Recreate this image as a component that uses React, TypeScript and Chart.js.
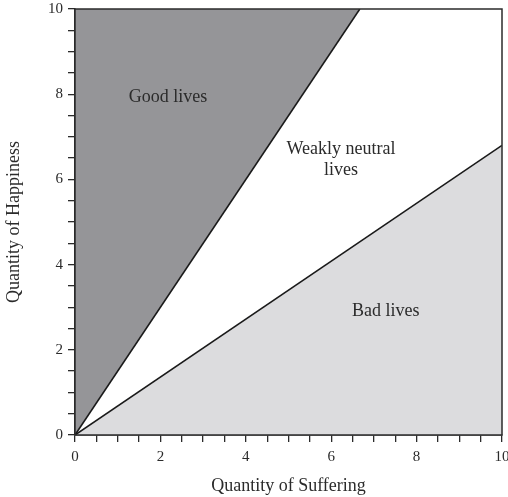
import React, { useEffect, useRef } from "react";
import { Chart, registerables } from "chart.js";

Chart.register(...registerables);

// Axis ranges and tick labels
const axisMin = 0;
const axisMax = 10;
const tickStep = 0.5;
const labelStep = 2;

// Boundary lines (from origin)
const steepX = [0, 6.67];
const steepY = [0, 10];
const shallowX = [0, 10];
const shallowY = [0, 6.8];

// Region labels
const regionText = [["Good lives"], ["Weakly neutral", "lives"], ["Bad lives"]];
const regionX = [2.18, 6.23, 7.28];
const regionY = [7.93, 6.45, 2.91];

const xTitle = "Quantity of Suffering";
const yTitle = "Quantity of Happiness";

const FONT = "'Liberation Serif', 'DejaVu Serif', serif";
const INK = "#2b2b2b";

const toPoints = (xs: number[], ys: number[]) => xs.map((x, i) => ({ x, y: ys[i] }));

const framePlugin = {
  id: "frameAndLabels",
  afterDatasetsDraw(chart: any) {
    const { ctx, chartArea, scales } = chart;
    ctx.save();
    ctx.strokeStyle = INK;
    ctx.lineWidth = 1.5;
    ctx.strokeRect(chartArea.left, chartArea.top, chartArea.right - chartArea.left, chartArea.bottom - chartArea.top);
    ctx.fillStyle = INK;
    ctx.font = `18px ${FONT}`;
    ctx.textAlign = "center";
    ctx.textBaseline = "middle";
    regionText.forEach((lines, i) => {
      const px = scales.x.getPixelForValue(regionX[i]);
      const py = scales.y.getPixelForValue(regionY[i]);
      const lh = 21;
      lines.forEach((t, j) => {
        ctx.fillText(t, px, py + (j - (lines.length - 1) / 2) * lh);
      });
    });
    ctx.restore();
  },
};

export default function App() {
  const ref = useRef<HTMLCanvasElement | null>(null);
  useEffect(() => {
    if (!ref.current) return;
    const tickCb = (v: any) => {
      const n = Number(v);
      return Math.abs(n / labelStep - Math.round(n / labelStep)) < 1e-6 ? String(Math.round(n)) : "";
    };
    const chart = new Chart(ref.current, {
      type: "scatter",
      data: {
        datasets: [
          {
            data: toPoints(steepX, steepY),
            showLine: true,
            fill: "end",
            backgroundColor: "#959598",
            borderColor: "#1a1a1a",
            borderWidth: 1.6,
            pointRadius: 0,
          },
          {
            data: toPoints(shallowX, shallowY),
            showLine: true,
            fill: "start",
            backgroundColor: "#dcdcde",
            borderColor: "#1a1a1a",
            borderWidth: 1.6,
            pointRadius: 0,
          },
        ],
      },
      options: {
        animation: false,
        responsive: true,
        maintainAspectRatio: false,
        layout: { padding: { top: 9, right: 6, left: 0, bottom: 0 } },
        plugins: { legend: { display: false }, tooltip: { enabled: false } },
        scales: {
          x: {
            type: "linear",
            min: axisMin,
            max: axisMax,
            ticks: { stepSize: tickStep, autoSkip: false, maxRotation: 0, callback: tickCb, color: INK, font: { family: FONT, size: 15 }, padding: 6 },
            grid: { display: true, drawOnChartArea: false, tickLength: 7, color: INK, lineWidth: 1.3 },
            border: { display: true, color: INK, width: 1.5 },
            title: { display: true, text: xTitle, color: INK, font: { family: FONT, size: 18 }, padding: { top: 4, bottom: 0 } },
            afterFit: (s: any) => {
              s.height = 62;
              s.paddingLeft = 0;
              s.paddingRight = 0;
            },
          },
          y: {
            type: "linear",
            min: axisMin,
            max: axisMax,
            ticks: { stepSize: tickStep, autoSkip: false, callback: tickCb, color: INK, font: { family: FONT, size: 15 }, padding: 5 },
            grid: { display: true, drawOnChartArea: false, tickLength: 7, color: INK, lineWidth: 1.3 },
            border: { display: true, color: INK, width: 1.5 },
            title: { display: true, text: yTitle, color: INK, font: { family: FONT, size: 18 }, padding: { top: 3, bottom: 2 } },
            afterFit: (s: any) => {
              s.width = 75;
              s.paddingTop = 0;
              s.paddingBottom = 0;
            },
          },
        },
      },
      plugins: [framePlugin],
    } as any);
    return () => chart.destroy();
  }, []);
  return (
    <div style={{ position: "absolute", left: 0, top: 0, width: 508, height: 497 }}>
      <canvas ref={ref} />
    </div>
  );
}
